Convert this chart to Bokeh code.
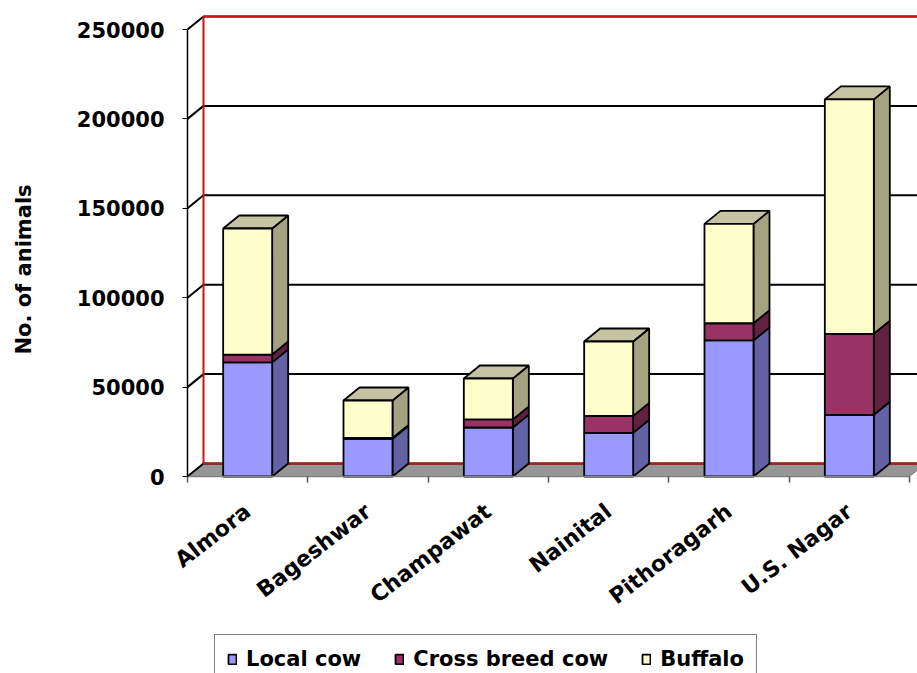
import numpy as np
from bokeh.plotting import figure
from bokeh.models import (FixedTicker, Range1d, Legend, LegendItem,
                          NumeralTickFormatter, Label)
from bokeh.embed import file_html
from bokeh.resources import INLINE

# ---- data -------------------------------------------------------------
districts = ["Almora", "Bageshwar", "Champawat", "Nainital", "Pithoragarh", "U.S. Nagar"]
local_cow = [63800, 21100, 27400, 24400, 76100, 34500]
cross_breed_cow = [4400, 500, 4500, 9500, 9600, 45300]
buffalo = [70500, 20900, 22900, 41600, 55600, 131100]
series_names = ["Local cow", "Cross breed cow", "Buffalo"]
y_ticks = [0, 50000, 100000, 150000, 200000, 250000]

# ---- styling ------------------------------------------------------------
FONT = "DejaVu Sans"
front_colors = ["#9999FF", "#993366", "#FFFFCC"]
side_colors = ["#6262A4", "#612141", "#A3A382"]
top_colors = ["#7A7AD0", "#7A2952", "#C4C4A2"]
WALL_RED = "#C81414"

# ---- pixel geometry (the frame fills the whole canvas) ------------------
W, H = 917, 673
AXIS_X_PX, AXIS_Y_PX = 187, 476   # where the value axis and the floor front edge sit
CAT_PX = 120.33          # pixels per category slot
Y_PX = 447               # pixels spanned by the top tick value
DEPTH_PX = (16, 13)      # receding offset of the back plane
BAR_PX = 49              # bar front width

y_top = y_ticks[-1]
x_per_px = 1.0 / CAT_PX
y_per_px = y_top / Y_PX
ddx = DEPTH_PX[0] * x_per_px
ddy = DEPTH_PX[1] * y_per_px
half = BAR_PX / 2 * x_per_px

x0 = -0.5                              # left edge of first category slot
x_start = x0 - AXIS_X_PX * x_per_px
x_end = x0 + (W - AXIS_X_PX) * x_per_px
y_start = -(H - AXIS_Y_PX) * y_per_px
y_end = AXIS_Y_PX * y_per_px
n = len(districts)
centers = np.arange(n)

p = figure(width=W, height=H,
           x_range=Range1d(x_start, x_end), y_range=Range1d(y_start, y_end),
           output_backend="svg", toolbar_location=None,
           min_border=0, min_border_left=0, min_border_right=0,
           min_border_top=0, min_border_bottom=0)
p.outline_line_color = None
p.grid.visible = False
p.background_fill_color = "white"
p.border_fill_color = "white"

# floor
p.patch([x0, x0 + n, x0 + n + ddx, x0 + ddx], [0, 0, ddy, ddy],
        fill_color="#969696", line_color="#7F7F7F", line_width=1)

# gridlines on back wall and side wall
ticks = np.array(y_ticks, dtype=float)
p.segment(x0=x0 + ddx, y0=ticks + ddy, x1=x_end, y1=ticks + ddy,
          line_color="black", line_width=2)
p.segment(x0=x0, y0=ticks, x1=x0 + ddx, y1=ticks + ddy,
          line_color="black", line_width=2)

# back wall outline
p.line([x_end, x0 + ddx, x0 + ddx, x_end], [y_top + ddy, y_top + ddy, ddy, ddy],
       line_color=WALL_RED, line_width=2)

# stacked 3D columns
stacks = [local_cow, cross_breed_cow, buffalo]
bottom = np.zeros(n)
renderers = []
for k, vals in enumerate(stacks):
    top = bottom + np.array(vals, dtype=float)
    side_xs = [[c + half, c + half + ddx, c + half + ddx, c + half] for c in centers]
    side_ys = [[b, b + ddy, t + ddy, t] for b, t in zip(bottom, top)]
    p.patches(side_xs, side_ys, fill_color=side_colors[k], line_color="black", line_width=1.8)
    if k == len(stacks) - 1:
        top_xs = [[c - half, c + half, c + half + ddx, c - half + ddx] for c in centers]
        top_ys = [[t, t, t + ddy, t + ddy] for t in top]
        p.patches(top_xs, top_ys, fill_color=top_colors[k], line_color="black", line_width=1.8)
    r = p.vbar(x=centers, bottom=bottom, top=top, width=2 * half,
               fill_color=front_colors[k], line_color="black", line_width=1.8)
    renderers.append(r)
    bottom = top

# y axis, pinned to the front-left edge of the box
yax = p.yaxis[0]
yax.fixed_location = x0
yax.ticker = FixedTicker(ticks=y_ticks, minor_ticks=[])
yax.formatter = NumeralTickFormatter(format="0")
yax.bounds = (0, y_top)
yax.axis_line_color = "black"
yax.axis_line_width = 1.5
yax.major_tick_out = 5
yax.major_tick_in = 0
yax.major_tick_line_color = "black"
yax.major_label_standoff = 18
yax.major_label_text_font = FONT
yax.major_label_text_font_style = "bold"
yax.major_label_text_font_size = "21px"
yax.major_label_text_color = "black"

# x axis on the floor's front edge: labels at slot centers, ticks at slot boundaries
xax = p.xaxis[0]
xax.fixed_location = 0
xax.ticker = FixedTicker(ticks=list(centers), minor_ticks=[x0 + i for i in range(n + 1)])
xax.major_label_overrides = {int(i): name for i, name in enumerate(districts)}
xax.bounds = (x0, x0 + n)
xax.axis_line_color = "#7F7F7F"
xax.axis_line_width = 1.5
xax.major_tick_out = 0
xax.major_tick_in = 0
xax.minor_tick_out = 6
xax.minor_tick_in = 0
xax.minor_tick_line_color = "#555555"
xax.minor_tick_line_width = 1.5
xax.major_label_orientation = 0.66
xax.major_label_standoff = 26
xax.major_label_text_font = FONT
xax.major_label_text_font_style = "bold"
xax.major_label_text_font_size = "22px"
xax.major_label_text_color = "black"

# value-axis title
TITLE_PX = (23, 269)
p.add_layout(Label(x=x_start + TITLE_PX[0] * x_per_px, y=(AXIS_Y_PX - TITLE_PX[1]) * y_per_px,
                   text="No. of animals", angle=np.pi / 2, text_align="center",
                   text_baseline="middle", text_font=FONT, text_font_style="bold",
                   text_font_size="21px", text_color="black"))

# legend along the bottom edge
LEGEND_PX = (214, 684)   # left, bottom of the legend box
legend = Legend(items=[LegendItem(label=nm, renderers=[r]) for nm, r in zip(series_names, renderers)],
                orientation="horizontal", location=(LEGEND_PX[0], H - LEGEND_PX[1]), margin=0,
                glyph_width=10, glyph_height=12, label_standoff=9, spacing=33, padding=12,
                label_text_font=FONT, label_text_font_style="bold", label_text_font_size="21px",
                label_text_color="black", border_line_color="black", border_line_width=1,
                background_fill_color="white", background_fill_alpha=1)
p.add_layout(legend)

open("out.html", "w").write(file_html(p, INLINE))
